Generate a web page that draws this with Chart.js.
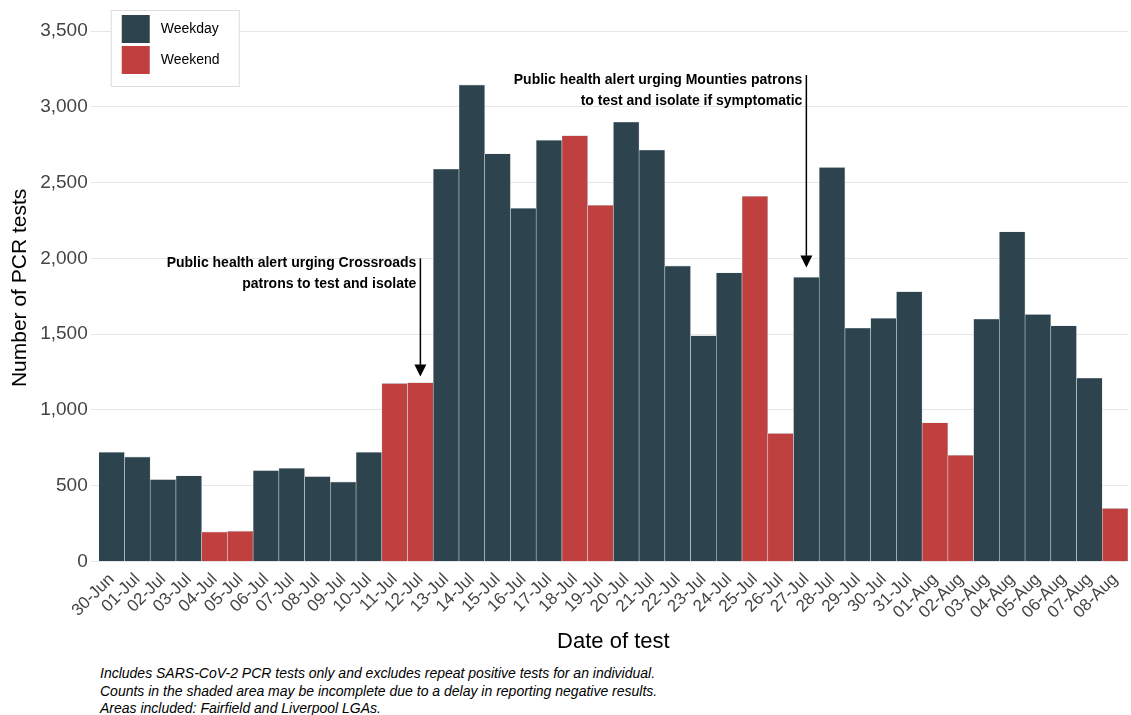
<!DOCTYPE html>
<html><head><meta charset="utf-8">
<script src="https://cdn.jsdelivr.net/npm/chart.js@4"></script>
<style>
body{margin:0;background:#fff;font-family:"Liberation Sans",Arial,sans-serif}
#wrap{position:relative;width:1131px;height:659px}
#cap{font-style:italic;font-size:14px;line-height:17.5px;color:#000;margin-left:100px;margin-top:6px}
</style></head><body>
<div id="wrap"><canvas id="c"></canvas></div>
<div id="cap">Includes SARS-CoV-2 PCR tests only and excludes repeat positive tests for an individual.<br>Counts in the shaded area may be incomplete due to a delay in reporting negative results.<br>Areas included: Fairfield and Liverpool LGAs.</div>
<script>
const dates = ["30-Jun","01-Jul","02-Jul","03-Jul","04-Jul","05-Jul","06-Jul","07-Jul","08-Jul","09-Jul","10-Jul","11-Jul","12-Jul","13-Jul","14-Jul","15-Jul","16-Jul","17-Jul","18-Jul","19-Jul","20-Jul","21-Jul","22-Jul","23-Jul","24-Jul","25-Jul","26-Jul","27-Jul","28-Jul","29-Jul","30-Jul","31-Jul","01-Aug","02-Aug","03-Aug","04-Aug","05-Aug","06-Aug","07-Aug","08-Aug"];
const tests = [720,690,540,565,195,200,600,615,560,525,720,1175,1180,2590,3145,2690,2330,2780,2810,2350,2900,2715,1950,1490,1905,2410,845,1875,2600,1540,1605,1780,915,700,1600,2175,1630,1555,1210,350];
const weekend = [4,5,11,12,18,19,25,26,32,33,39];
const DARK = "#2d434e", RED = "#c04040";

const colors = tests.map((v, i) => weekend.includes(i) ? RED : DARK);

const annotations = [
  { at: 12, from: 2000, to: 1220, lines: ["Public health alert urging Crossroads", "patrons to test and isolate"] },
  { at: 27, from: 3210, to: 1940, lines: ["Public health alert urging Mounties patrons", "to test and isolate if symptomatic"] },
];

const extras = {
  id: "extras",
  afterDatasetsDraw(chart) {
    const { ctx, scales: { x, y } } = chart;
    ctx.save();
    // arrows + labels
    annotations.forEach(a => {
      const cx = x.getPixelForValue(a.at);
      const y0 = y.getPixelForValue(a.from), y1 = y.getPixelForValue(a.to);
      ctx.strokeStyle = "#000"; ctx.fillStyle = "#000"; ctx.lineWidth = 1.5;
      ctx.beginPath(); ctx.moveTo(cx, y0); ctx.lineTo(cx, y1 - 8); ctx.stroke();
      ctx.beginPath(); ctx.moveTo(cx - 6, y1 - 12); ctx.lineTo(cx + 6, y1 - 12); ctx.lineTo(cx, y1); ctx.closePath(); ctx.fill();
      ctx.font = "bold 14px 'Liberation Sans', Arial, sans-serif";
      ctx.textAlign = "right"; ctx.textBaseline = "middle";
      a.lines.forEach((t, k) => ctx.fillText(t, cx - 4, y0 + 5 + k * 21));
    });
    // legend
    const lx = chart.chartArea.left + 12, ly = 10;
    ctx.fillStyle = "#fff"; ctx.fillRect(lx, ly, 128, 76);
    ctx.strokeStyle = "#ddd"; ctx.lineWidth = 1; ctx.strokeRect(lx + 0.5, ly + 0.5, 128, 76);
    [["Weekday", DARK], ["Weekend", RED]].forEach(([t, c], k) => {
      ctx.fillStyle = c; ctx.fillRect(lx + 11, ly + 5 + k * 31, 28, 28);
      ctx.fillStyle = "#000"; ctx.font = "14px 'Liberation Sans', Arial, sans-serif";
      ctx.textAlign = "left"; ctx.textBaseline = "middle";
      ctx.fillText(t, lx + 50, ly + 19 + k * 31);
    });
    ctx.restore();
  }
};

new Chart(document.getElementById("c"), {
  type: "bar",
  data: { labels: dates, datasets: [{ data: tests, backgroundColor: colors, borderColor: "#cfd6d9", borderWidth: 0.6, barPercentage: 1, categoryPercentage: 1 }] },
  options: {
    responsive: true, maintainAspectRatio: false, animation: false,
    layout: { padding: { top: 8, right: 3, left: 4 } },
    plugins: { legend: { display: false }, tooltip: { enabled: false } },
    scales: {
      x: {
        grid: { display: false }, border: { display: false },
        ticks: { color: "#444", font: { size: 17, family: "'Liberation Sans', Arial" }, maxRotation: 45, minRotation: 45, autoSkip: false, padding: 0 },
        title: { display: true, text: "Date of test", color: "#000", font: { size: 22, family: "'Liberation Sans', Arial" }, padding: { top: 6 } }
      },
      y: {
        min: 0, max: 3610,
        grid: { color: "#e6e6e6" }, border: { display: false },
        afterBuildTicks: s => { s.ticks = [0,500,1000,1500,2000,2500,3000,3500].map(v => ({ value: v })); },
        ticks: { color: "#444", font: { size: 19, family: "'Liberation Sans', Arial" }, callback: v => v.toLocaleString("en-US") },
        title: { display: true, text: "Number of PCR tests", color: "#000", font: { size: 21, family: "'Liberation Sans', Arial" } }
      }
    }
  },
  plugins: [extras]
});
</script></body></html>
